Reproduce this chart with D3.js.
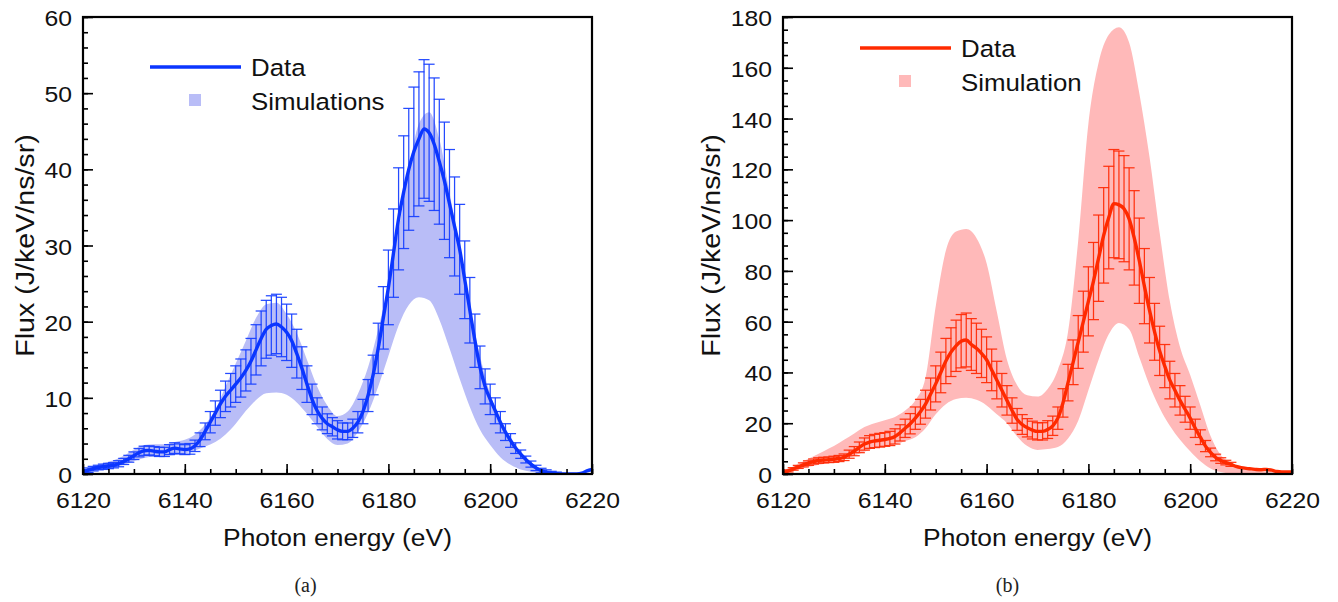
<!DOCTYPE html>
<html>
<head>
<meta charset="utf-8">
<script src="https://cdn.jsdelivr.net/npm/d3@7"></script>
<style>
body { margin: 0; background: #fff; }
svg { display: block; font-family: "Liberation Sans", Arial, Helvetica, sans-serif; }
</style>
</head>
<body>
<div id="main"></div>
<script>
"use strict";

// photon energy grid of the measured points (1 eV) and of the simulated band (2 eV)
const energy = d3.range(6120, 6221, 1);
const bandEnergy = d3.range(6120, 6221, 2);

// (a) measured flux and its error
const dataA = [0.3,0.5,0.7,0.85,0.95,1.05,1.15,1.35,1.65,2.0,
  2.4,2.8,3.05,3.1,3.0,2.9,2.9,3.2,3.4,3.3,
  3.2,3.3,3.7,4.5,5.6,6.8,8.0,9.2,10.2,11.0,
  11.8,12.6,13.6,14.8,16.3,17.8,19.0,19.5,19.7,19.3,
  18.6,17.5,15.8,13.9,11.8,9.8,8.3,7.3,6.6,6.2,
  5.8,5.6,5.6,6.0,6.8,8.2,10.3,13.0,16.5,20.5,
  24.5,29.0,33.5,37.0,40.0,42.3,44.0,45.3,44.8,43.3,
  41.0,38.5,35.5,32.5,29.5,25.5,21.5,17.5,14.0,11.5,
  9.8,8.3,6.8,5.5,4.4,3.4,2.6,1.9,1.3,0.8,
  0.45,0.25,0.1,0.05,0,0,0,0,0.1,0.4,0.6];
const errA = [0.3,0.3,0.3,0.3,0.35,0.35,0.35,0.4,0.4,0.45,
  0.5,0.55,0.6,0.6,0.6,0.6,0.6,0.65,0.7,0.65,
  0.65,0.7,0.75,0.9,1.1,1.4,1.6,1.8,2.0,2.2,
  2.4,2.5,2.7,3.0,3.3,3.6,3.8,3.9,3.9,3.9,
  3.7,3.5,3.2,2.8,2.4,2.0,1.7,1.5,1.3,1.2,
  1.2,1.1,1.1,1.2,1.4,1.6,2.1,2.6,3.3,4.1,
  4.9,5.8,6.7,7.4,8.0,8.5,8.8,9.1,9.0,8.7,
  8.2,7.7,7.1,6.5,5.9,5.1,4.3,3.5,2.8,2.3,
  2.0,1.7,1.4,1.1,0.9,0.7,0.55,0.45,0.4,0.35,
  0.3,0.3,0.25,0.2,0,0,0,0,0,0,0];
// (a) simulated band, lower and upper edge
const simLowA = [0.1,0.4,0.7,0.9,1.2,1.7,2.1,2.3,2.4,2.5,
  2.7,3.1,3.6,4.2,5.2,6.6,8.3,9.7,10.6,10.7,
  10.4,9.4,7.9,6.2,4.6,3.8,4.0,5.5,8.0,11.5,
  15.5,19.5,22.2,23.2,22.8,20.3,16.5,12.5,8.8,5.8,
  3.8,2.2,1.2,0.6,0.3,0.1,0,0,0,0,0];
const simHighA = [0.5,1.0,1.4,1.8,2.4,3.2,3.8,3.9,3.9,4.2,
  4.5,5.2,6.5,8.5,11.5,14.5,17.5,20.5,22.3,22.5,
  21.0,18.5,15.0,11.5,9.0,7.6,8.2,10.5,14.0,19.0,
  25.0,32.0,40.0,46.0,47.5,44.0,37.0,29.5,22.0,15.5,
  10.5,7.0,4.5,2.8,1.5,0.7,0.3,0.1,0,0,0];

// (b) measured flux and its error
const dataB = [0.5,1.2,2.0,2.8,3.6,4.3,4.9,5.3,5.5,5.6,
  5.8,6.1,6.6,7.8,9.0,10.5,11.8,12.6,13.0,13.3,
  13.6,14.0,14.8,16.2,18.0,19.8,22.0,24.5,27.5,31.5,
  35.5,40.0,44.5,48.0,50.5,52.3,52.8,51.0,49.5,47.5,
  45.0,41.0,37.0,33.0,29.0,25.0,21.5,19.5,18.2,17.3,
  16.8,16.8,17.5,19.0,22.0,28.0,36.0,44.0,52.0,60.0,
  68.0,76.0,85.0,94.0,101.0,106.5,106.0,104.5,100.5,93.0,
  84.0,74.0,64.5,56.0,48.5,42.5,37.0,33.0,29.0,25.5,
  22.0,18.0,14.5,11.0,8.5,6.5,5.3,4.5,3.8,3.0,
  2.5,2.2,2.0,1.8,1.7,1.8,1.5,1.0,0.8,0.8,0.8];
const errB = [0.3,0.4,0.5,0.6,0.8,0.9,1.0,1.1,1.1,1.1,
  1.2,1.2,1.3,1.6,1.8,2.1,2.4,2.5,2.6,2.7,
  2.7,2.8,3.0,3.2,3.6,4.0,4.4,4.9,5.5,6.3,
  7.1,8.0,8.9,9.6,10.1,10.5,10.6,10.2,9.9,9.5,
  9.0,8.2,7.4,6.6,5.8,5.0,4.3,3.9,3.6,3.5,
  3.4,3.4,3.5,3.8,4.4,5.6,7.2,8.8,10.4,12.0,
  13.6,15.2,17.0,18.8,20.2,21.3,21.2,20.9,20.1,18.6,
  16.8,14.8,12.9,11.2,9.7,8.5,7.4,6.6,5.8,5.1,
  4.4,3.6,2.9,2.2,1.7,1.3,1.1,0.9,0.8,0,
  0,0,0,0,0,0,0,0,0,0,0];
// (b) simulated band, lower and upper edge
const simLowB = [0.3,1.2,2.3,3.2,3.9,4.6,5.8,7.2,8.8,10.2,
  11.0,11.6,13.0,14.5,18.0,23.5,27.5,29.5,30.0,29.2,
  27.0,23.5,20.0,14.8,11.0,9.5,9.8,10.6,14.0,21.0,
  33.0,45.0,55.0,59.5,57.0,46.0,35.0,26.0,19.0,13.5,
  9.0,5.0,2.2,0.8,0.2,0,0,0,0,0,0];
const simHighB = [1.5,3.0,5.0,7.0,9.0,11.0,13.5,16.0,18.5,20.0,
  21.2,22.5,25.0,29.0,38.0,66.0,88.0,95.5,96.5,93.0,
  83.0,64.0,45.0,35.0,31.0,30.5,33.5,41.0,56.0,92.0,
  138.0,162.0,173.0,176.0,170.0,150.0,125.0,95.0,68.0,50.0,
  39.0,27.0,15.0,7.5,4.5,2.5,1.5,1.0,0.7,0.5,0.4];

// axis ticks
const xTicksMajor = [6120, 6140, 6160, 6180, 6200, 6220];
const xTicksMinor = d3.range(6120, 6221, 5);
const yTicksMajorA = [0, 10, 20, 30, 40, 50, 60];
const yTicksMinorA = d3.range(0, 61, 2);
const yTicksMajorB = [0, 20, 40, 60, 80, 100, 120, 140, 160, 180];
const yTicksMinorB = d3.range(0, 181, 5);

const SX = 1.1;   // the reference text is a little wide

const panels = [
  { left: 83, ymax: 60, data: dataA, err: errA, lo: simLowA, hi: simHighA,
    yMajor: yTicksMajorA, yMinor: yTicksMinorA, titleX: 34,
    line: "#0b36ff", bar: "#1840ff", band: "#b9bdf7",
    legend: ["Data", "Simulations"], legX: 150, legY: 67, caption: "(a)" },
  { left: 783, ymax: 180, data: dataB, err: errB, lo: simLowB, hi: simHighB,
    yMajor: yTicksMajorB, yMinor: yTicksMinorB, titleX: 720,
    line: "#ff2a00", bar: "#ff2c08", band: "#ffb9b9",
    legend: ["Data", "Simulation"], legX: 860, legY: 48, caption: "(b)" }
];

const W = 1338, H = 602;
const plotTop = 17, plotBottom = 474, plotW = 509;

const svg = d3.select("#main").append("svg")
  .attr("width", W)
  .attr("height", H);

function sText(g, x, y, str, anchor, size) {
  return g.append("text")
    .attr("transform", `translate(${x},${y}) scale(${SX},1)`)
    .attr("text-anchor", anchor)
    .style("font-size", size + "px")
    .attr("fill", "#111")
    .text(str);
}

panels.forEach(function(p, i) {
  const x = d3.scaleLinear().domain([6120, 6220]).range([p.left, p.left + plotW]);
  const y = d3.scaleLinear().domain([0, p.ymax]).range([plotBottom, plotTop]);
  const g = svg.append("g");

  g.append("clipPath").attr("id", "clip" + i)
    .append("rect").attr("x", p.left).attr("y", plotTop)
    .attr("width", plotW).attr("height", plotBottom - plotTop);

  const plot = g.append("g").attr("clip-path", `url(#clip${i})`);

  // simulation band
  const area = d3.area()
    .x(function(d, j) { return x(bandEnergy[j]); })
    .y0(function(d, j) { return y(p.lo[j]); })
    .y1(function(d) { return y(d); })
    .curve(d3.curveMonotoneX);
  plot.append("path").datum(p.hi)
    .attr("d", area)
    .attr("fill", p.band);

  // error bars
  const pts = energy.map(function(e, j) { return { e: e, v: p.data[j], s: p.err[j] }; })
    .filter(function(d) { return d.s > 0; });
  const bars = plot.append("g")
    .attr("stroke", p.bar)
    .attr("stroke-width", 1.25)
    .attr("stroke-opacity", 0.95);
  const cap = 5.5;
  pts.forEach(function(d) {
    const cx = x(d.e), y1 = y(d.v + d.s), y0 = y(d.v - d.s);
    bars.append("line").attr("x1", cx).attr("x2", cx).attr("y1", y0).attr("y2", y1);
    bars.append("line").attr("x1", cx - cap).attr("x2", cx + cap).attr("y1", y1).attr("y2", y1);
    bars.append("line").attr("x1", cx - cap).attr("x2", cx + cap).attr("y1", y0).attr("y2", y0);
  });

  // data line
  const line = d3.line()
    .x(function(d, j) { return x(energy[j]); })
    .y(function(d) { return y(d); })
    .curve(d3.curveMonotoneX);
  plot.append("path").datum(p.data)
    .attr("d", line)
    .attr("fill", "none")
    .attr("stroke", p.line)
    .attr("stroke-width", 3.4)
    .attr("stroke-linejoin", "round");

  // ticks (inward, bottom and left only)
  const xMinor = g.append("g").attr("transform", `translate(0,${plotBottom})`)
    .call(d3.axisBottom(x).tickValues(xTicksMinor).tickSize(-5).tickSizeOuter(0).tickFormat(""));
  const xMajor = g.append("g").attr("transform", `translate(0,${plotBottom})`)
    .call(d3.axisBottom(x).tickValues(xTicksMajor).tickSize(-10).tickSizeOuter(0).tickFormat(d3.format("d")));
  const yMinor = g.append("g").attr("transform", `translate(${p.left},0)`)
    .call(d3.axisLeft(y).tickValues(p.yMinor).tickSize(-5).tickSizeOuter(0).tickFormat(""));
  const yMajor = g.append("g").attr("transform", `translate(${p.left},0)`)
    .call(d3.axisLeft(y).tickValues(p.yMajor).tickSize(-10).tickSizeOuter(0).tickFormat(d3.format("d")));

  [xMinor, xMajor, yMinor, yMajor].forEach(function(a) {
    a.select(".domain").remove();
    a.selectAll("line").attr("stroke", "#000").attr("stroke-width", 1.6);
  });
  xMajor.selectAll("text")
    .attr("x", null).attr("y", null).attr("dy", null)
    .attr("transform", `translate(0,34) scale(${SX},1)`)
    .attr("fill", "#111")
    .style("font-size", "22.5px");
  yMajor.selectAll("text")
    .attr("x", null).attr("y", null).attr("dy", null)
    .attr("transform", `translate(-11,8.5) scale(${SX},1)`)
    .attr("fill", "#111")
    .style("font-size", "22.5px");

  // frame
  g.append("rect")
    .attr("x", p.left).attr("y", plotTop)
    .attr("width", plotW).attr("height", plotBottom - plotTop)
    .attr("fill", "none")
    .attr("stroke", "#000")
    .attr("stroke-width", 2.2);

  // axis titles
  sText(g, p.left + plotW / 2, 546, "Photon energy (eV)", "middle", 24);
  g.append("text")
    .attr("transform", `translate(${p.titleX},${(plotTop + plotBottom) / 2}) rotate(-90) scale(${SX},1)`)
    .attr("text-anchor", "middle")
    .attr("fill", "#111")
    .style("font-size", "26px")
    .text("Flux (J/keV/ns/sr)");

  // legend
  g.append("line")
    .attr("x1", p.legX).attr("x2", p.legX + 91)
    .attr("y1", p.legY).attr("y2", p.legY)
    .attr("stroke", p.line).attr("stroke-width", 3.4);
  sText(g, p.legX + 101, p.legY + 9, p.legend[0], "start", 23.5);
  g.append("rect")
    .attr("x", p.legX + 39).attr("y", p.legY + 27)
    .attr("width", 12).attr("height", 12)
    .attr("fill", p.band);
  sText(g, p.legX + 101, p.legY + 43, p.legend[1], "start", 23.5);

  // caption
  g.append("text")
    .attr("x", p.left + plotW / 2 - 32 + i * 2)
    .attr("y", 592)
    .attr("text-anchor", "middle")
    .style("font-family", "'Liberation Serif', 'DejaVu Serif', serif")
    .style("font-size", "20px")
    .attr("fill", "#222")
    .text(p.caption);
});
</script>
</body>
</html>
